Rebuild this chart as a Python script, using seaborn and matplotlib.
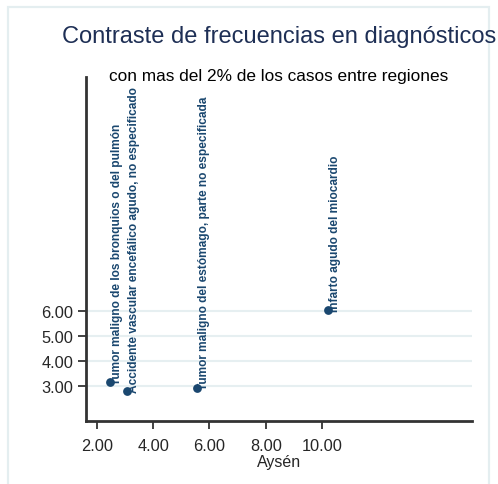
import matplotlib
matplotlib.use("Agg")
import matplotlib.pyplot as plt
import seaborn as sns
import pandas as pd
from matplotlib.patches import Rectangle
from matplotlib import font_manager

# data
diagnosticos = [
    "Tumor maligno de los bronquios o del pulmón",
    "Accidente vascular encefálico agudo, no especificado",
    "Tumor maligno del estómago, parte no especificada",
    "Infarto agudo del miocardio",
]
aysen = [2.47, 3.08, 5.55, 10.2]
otra_region = [3.14, 2.80, 2.93, 6.07]

x_ticks = [2, 4, 6, 8, 10]
y_ticks = [3, 4, 5, 6]

df = pd.DataFrame({"diag": diagnosticos, "aysen": aysen, "otra": otra_region})

sns.set_style("white")
plt.rcParams["font.family"] = ["Liberation Sans", "DejaVu Sans"]

names = {f.name for f in font_manager.fontManager.ttflist}
label_font = "Liberation Sans Narrow" if "Liberation Sans Narrow" in names else "Liberation Sans"

navy = "#1a476f"
W, H = 498, 485
fig = plt.figure(figsize=(W / 100, H / 100), dpi=100)
fig.patch.set_facecolor("white")

# graph region frame (open at the bottom, as in the crop)
fig.patches.append(Rectangle((8 / W, -0.05), 481 / W, 1.05 - 8 / H, transform=fig.transFigure,
                             fill=False, edgecolor="#e4eef0", linewidth=1.6, zorder=0))

ax = fig.add_axes([86 / W, 1 - 422 / H, (472 - 86) / W, (422 - 78) / H])
sns.scatterplot(data=df, x="aysen", y="otra", ax=ax, color=navy, s=40,
                edgecolor=navy, linewidth=0, zorder=3)

for d, xv, yv in zip(df["diag"], df["aysen"], df["otra"]):
    ax.annotate(d, (xv, yv), xytext=(5, -1), textcoords="offset points",
                rotation=90, ha="center", va="bottom", color=navy,
                fontsize=8.6, fontweight="bold", family=label_font, zorder=4)

ax.set_xlim(1.62, 15.31)
ax.set_ylim(1.58, 15.45)
ax.set_xticks(x_ticks)
ax.set_xticklabels([f"{v:.2f}" for v in x_ticks])
ax.set_yticks(y_ticks)
ax.set_yticklabels([f"{v:.2f}" for v in y_ticks])
ax.tick_params(axis="both", labelsize=11.8, length=6, width=1.3, color="#333333",
               direction="out", left=True, bottom=True)
ax.tick_params(axis="x", pad=6)
ax.tick_params(axis="y", pad=3)
ax.yaxis.grid(True, color="#e6eff1", linewidth=1.5)
ax.set_axisbelow(True)

for side in ["top", "right"]:
    ax.spines[side].set_visible(False)
for side in ["left", "bottom"]:
    ax.spines[side].set_color("#333333")
    ax.spines[side].set_linewidth(2)

ax.set_xlabel("Aysén", fontsize=11.5, labelpad=1)
ax.set_ylabel("")

cx = (86 + 472) / 2 / W
fig.text(cx, 1 - 37 / H, "Contraste de frecuencias en diagnósticos", ha="center", va="center",
         fontsize=17, color="#1e2f55")
fig.text(cx, 1 - 77 / H, "con mas del 2% de los casos entre regiones", ha="center", va="center",
         fontsize=12.4, color="black")

fig.savefig("out.png", dpi=100)
